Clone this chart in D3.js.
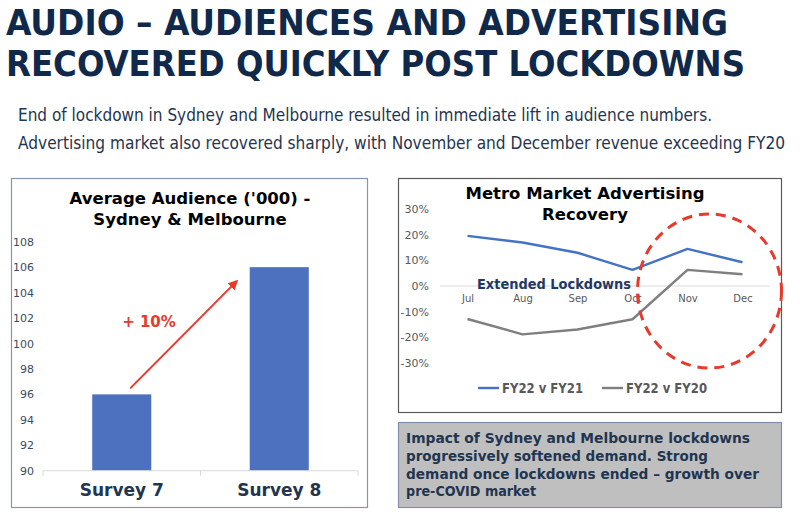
<!DOCTYPE html>
<html><head><meta charset="utf-8">
<script src="https://cdn.jsdelivr.net/npm/d3@7"></script>
<style>body{margin:0;background:#fff}svg{display:block}</style>
</head><body>
<svg id="c" width="800" height="522"></svg>
<script>
// ---- data ----
const surveys = ["Survey 7", "Survey 8"];
const audience = [96, 106];
const audienceTicks = [90, 92, 94, 96, 98, 100, 102, 104, 106, 108];
const months = ["Jul", "Aug", "Sep", "Oct", "Nov", "Dec"];
const fy22vFy21 = [19.6, 17, 13, 6.3, 14.5, 9.3];
const fy22vFy20 = [-12.9, -18.9, -17, -13, 6.3, 4.6];
const pctTicks = [30, 20, 10, 0, -10, -20, -30];
const seriesNames = ["FY22 v FY21", "FY22 v FY20"];

const svg = d3.select("#c");
const navy = "#10294a";
const red = "#e8392b";

// ---- headline ----
const title = ["AUDIO \u2013 AUDIENCES AND ADVERTISING", "RECOVERED QUICKLY POST LOCKDOWNS"];
const titleW = [722, 739];
title.forEach((t, i) => {
  svg.append("text").attr("x", 6).attr("y", 35 + i * 40.5)
    .attr("font-family", "DejaVu Sans Condensed, DejaVu Sans").attr("font-weight", "bold")
    .attr("font-size", 35.5).attr("fill", navy)
    .attr("textLength", titleW[i]).attr("lengthAdjust", "spacingAndGlyphs").text(t);
});
const sub = ["End of lockdown in Sydney and Melbourne resulted in immediate lift in audience numbers.",
  "Advertising market also recovered sharply, with November and December revenue exceeding FY20"];
const subW = [694, 767];
sub.forEach((t, i) => {
  svg.append("text").attr("x", 18).attr("y", 121 + i * 28)
    .attr("font-family", "DejaVu Sans Condensed, DejaVu Sans")
    .attr("font-size", 17).attr("fill", "#1f3550")
    .attr("textLength", subW[i]).attr("lengthAdjust", "spacingAndGlyphs").text(t);
});

// ---- left panel ----
svg.append("rect").attr("x", 11.5).attr("y", 178.5).attr("width", 356).attr("height", 329)
  .attr("fill", "#fff").attr("stroke", "#8496b0").attr("stroke-width", 1.2);
["Average Audience ('000) -", "Sydney & Melbourne"].forEach((t, i) => {
  svg.append("text").attr("x", 190).attr("y", 204 + i * 21).attr("text-anchor", "middle")
    .attr("font-family", "DejaVu Sans").attr("font-weight", "bold").attr("font-size", 16.5)
    .attr("fill", "#000").text(t);
});
const xL = d3.scaleBand().domain(surveys).range([43, 358]).paddingInner(0.625).paddingOuter(0.3125);
const yL = d3.scaleLinear().domain([90, 108]).range([470.7, 241.7]);
const gL = svg.append("g");
gL.selectAll("rect.bar").data(audience).join("rect").attr("class", "bar")
  .attr("x", (d, i) => xL(surveys[i])).attr("width", xL.bandwidth())
  .attr("y", d => yL(d)).attr("height", d => yL(90) - yL(d)).attr("fill", "#4e71bf");
const axL = gL.append("g").attr("transform", "translate(40,0)")
  .call(d3.axisLeft(yL).tickValues(audienceTicks).tickSize(0).tickPadding(6));
axL.select(".domain").remove();
axL.selectAll("text").attr("font-family", "DejaVu Sans").attr("font-size", 11).attr("fill", "#3b4b66");
axL.selectAll("text").attr("x", -6);
// baseline
gL.append("line").attr("x1", 43).attr("x2", 358).attr("y1", yL(90)).attr("y2", yL(90))
  .attr("stroke", "#d9d9d9").attr("stroke-width", 1);
[43, 200.5, 358].forEach(x => gL.append("line").attr("x1", x).attr("x2", x)
  .attr("y1", yL(90)).attr("y2", yL(90) + 5).attr("stroke", "#d9d9d9"));
const axB = gL.append("g").attr("transform", `translate(0,${yL(90)})`)
  .call(d3.axisBottom(xL).tickSize(0).tickPadding(13));
axB.select(".domain").remove();
axB.selectAll("text").attr("font-family", "DejaVu Sans").attr("font-weight", "bold")
  .attr("font-size", 17).attr("fill", "#1f3550");
// arrow
const defs = svg.append("defs");
defs.append("marker").attr("id", "ah").attr("viewBox", "0 0 10 10").attr("refX", 8).attr("refY", 5)
  .attr("markerWidth", 5).attr("markerHeight", 5).attr("orient", "auto")
  .append("path").attr("d", "M0,0 L10,5 L0,10 z").attr("fill", red);
gL.append("line").attr("x1", xL("Survey 7") + 38).attr("y1", yL(audience[0]) - 6)
  .attr("x2", xL("Survey 8") - 13).attr("y2", yL(104.9))
  .attr("stroke", red).attr("stroke-width", 2).attr("marker-end", "url(#ah)");
gL.append("text").attr("x", 149).attr("y", 327).attr("text-anchor", "middle")
  .attr("font-family", "DejaVu Sans").attr("font-weight", "bold").attr("font-size", 15)
  .attr("fill", red).text("+ 10%");

// ---- right panel ----
svg.append("rect").attr("x", 398.5).attr("y", 178.5).attr("width", 383).attr("height", 234)
  .attr("fill", "#fff").attr("stroke", "#595959").attr("stroke-width", 1.2);
["Metro Market Advertising", "Recovery"].forEach((t, i) => {
  svg.append("text").attr("x", 585).attr("y", 199 + i * 21).attr("text-anchor", "middle")
    .attr("font-family", "DejaVu Sans").attr("font-weight", "bold").attr("font-size", 16.5)
    .attr("fill", "#000").text(t);
});
const xR = d3.scalePoint().domain(months).range([440, 770]).padding(0.5);
const yR = d3.scaleLinear().domain([-30, 30]).range([362.7, 209.3]);
const gR = svg.append("g");
const axR = gR.append("g").attr("transform", "translate(434,0)")
  .call(d3.axisLeft(yR).tickValues(pctTicks).tickSize(0).tickFormat(d => d + "%"));
axR.select(".domain").remove();
axR.selectAll("text").attr("font-family", "DejaVu Sans").attr("font-size", 11).attr("fill", "#595959")
  .attr("x", -5);
gR.append("line").attr("x1", 440).attr("x2", 770).attr("y1", yR(0)).attr("y2", yR(0))
  .attr("stroke", "#d9d9d9");
const axM = gR.append("g").attr("transform", `translate(0,${yR(0)})`)
  .call(d3.axisBottom(xR).tickSize(0).tickPadding(9));
axM.select(".domain").remove();
axM.selectAll("text").attr("font-family", "DejaVu Sans").attr("font-size", 10).attr("fill", "#595959");
const line = d3.line().x((d, i) => xR(months[i])).y(d => yR(d));
const colors = ["#4472c4", "#7f7f7f"];
[fy22vFy21, fy22vFy20].forEach((s, k) => {
  gR.append("path").datum(s).attr("d", line).attr("fill", "none")
    .attr("stroke", colors[k]).attr("stroke-width", 2.4).attr("stroke-linejoin", "round");
});
gR.append("text").attr("x", 477).attr("y", 289).attr("font-family", "DejaVu Sans")
  .attr("font-weight", "bold").attr("font-size", 14.5).attr("fill", "#1f3864")
  .attr("textLength", 154).attr("lengthAdjust", "spacingAndGlyphs").text("Extended Lockdowns");
gR.append("ellipse").attr("cx", 709.5).attr("cy", 291).attr("rx", 72).attr("ry", 77)
  .attr("fill", "none").attr("stroke", red).attr("stroke-width", 3).attr("stroke-dasharray", "10,7");
// legend
const legX = [478, 602];
seriesNames.forEach((n, k) => {
  gR.append("line").attr("x1", legX[k]).attr("x2", legX[k] + 21).attr("y1", 388).attr("y2", 388)
    .attr("stroke", colors[k]).attr("stroke-width", 2.4);
  gR.append("text").attr("x", legX[k] + 24).attr("y", 393).attr("font-family", "DejaVu Sans")
    .attr("font-weight", "bold").attr("font-size", 13.5).attr("fill", "#595959")
    .attr("textLength", 81).attr("lengthAdjust", "spacingAndGlyphs").text(n);
});

// ---- note box ----
svg.append("rect").attr("x", 398.5).attr("y", 422.5).attr("width", 383).attr("height", 85)
  .attr("fill", "#bfbfbf").attr("stroke", "#7f8fa8").attr("stroke-width", 1.2);
const note = ["Impact of Sydney and Melbourne lockdowns", "progressively softened demand. Strong",
  "demand once lockdowns ended \u2013 growth over", "pre-COVID market"];
const noteW = [344, 302, 353, 130];
note.forEach((t, i) => {
  svg.append("text").attr("x", 406).attr("y", 443 + i * 17.8).attr("font-family", "DejaVu Sans")
    .attr("font-weight", "bold").attr("font-size", 13.5).attr("fill", "#1f3550")
    .attr("textLength", noteW[i]).attr("lengthAdjust", "spacingAndGlyphs").text(t);
});
</script>
</body></html>
